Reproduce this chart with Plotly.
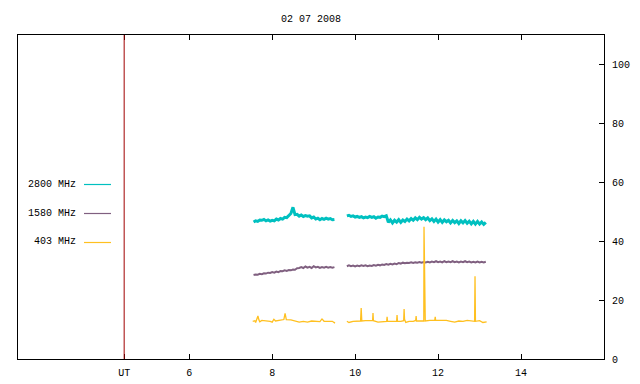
import plotly.graph_objects as go

# ---- data ----
title_text = "02 07 2008"
ut_pos = 4.43
x_tickvals = [4.43, 6, 8, 10, 12, 14]
x_ticktext = ["UT", "6", "8", "10", "12", "14"]
y_tickvals = [0, 20, 40, 60, 80, 100]

t_seg1 = [7.55, 7.60, 7.65, 7.70, 7.75, 7.80, 7.85, 7.90, 7.95, 8.00,
          8.05, 8.10, 8.15, 8.20, 8.25, 8.30, 8.35, 8.40, 8.45, 8.50,
          8.55, 8.60, 8.65, 8.70, 8.75, 8.80, 8.85, 8.90, 8.95, 9.00,
          9.05, 9.10, 9.15, 9.20, 9.25, 9.30, 9.35, 9.40, 9.45, 9.50]
t_seg2 = [9.80, 9.85, 9.90, 9.95, 10.00, 10.05, 10.10, 10.15, 10.20, 10.25,
          10.30, 10.35, 10.40, 10.45, 10.50, 10.55, 10.60, 10.65, 10.70, 10.75,
          10.80, 10.85, 10.90, 10.95, 11.00, 11.05, 11.10, 11.15, 11.20, 11.25,
          11.30, 11.35, 11.40, 11.45, 11.50, 11.55, 11.60, 11.65, 11.70, 11.75,
          11.80, 11.85, 11.90, 11.95, 12.00, 12.05, 12.10, 12.15, 12.20, 12.25,
          12.30, 12.35, 12.40, 12.45, 12.50, 12.55, 12.60, 12.65, 12.70, 12.75,
          12.80, 12.85, 12.90, 12.95, 13.00, 13.05, 13.10, 13.15]

f2800_seg1 = [46.5, 46.9, 46.7, 47.2, 47.1, 47.4, 46.9, 47.2, 46.8, 47.1,
              46.9, 47.5, 47.2, 47.7, 47.5, 48.1, 48.0, 48.7, 49.4, 51.5,
              49.0, 49.1, 48.5, 48.9, 48.4, 48.7, 48.5, 48.6, 47.9, 48.2,
              47.5, 47.8, 47.3, 47.7, 47.4, 47.8, 47.5, 47.7, 47.3, 47.4]
f2800_seg2 = [48.6, 48.8, 48.4, 48.6, 48.2, 48.4, 48.1, 48.3, 47.9, 48.2,
              48.0, 48.4, 48.1, 48.3, 47.8, 48.2, 48.1, 48.5, 48.3, 48.6,
              46.4, 47.2, 46.2, 47.1, 46.5, 47.3, 46.4, 47.2, 46.7, 47.5,
              46.9, 47.7, 47.1, 47.9, 47.3, 48.1, 47.5, 48.0, 47.3, 47.9,
              47.0, 47.6, 46.7, 47.5, 46.5, 47.3, 46.4, 47.2, 46.6, 47.1,
              46.2, 47.0, 46.3, 46.9, 46.0, 46.9, 46.2, 47.0, 46.1, 46.8,
              45.9, 46.7, 45.8, 46.7, 45.8, 46.5, 45.7, 46.4]

f1580_seg1 = [28.5, 28.7, 28.6, 28.9, 28.8, 29.1, 29.0, 29.3, 29.2, 29.5,
              29.3, 29.7, 29.5, 29.9, 29.8, 30.1, 29.9, 30.2, 30.1, 30.4,
              30.3, 30.8, 30.9, 31.2, 30.9, 31.4, 31.0, 31.3, 30.9, 31.5,
              31.1, 31.3, 30.9, 31.2, 31.0, 31.3, 31.0, 31.2, 31.0, 31.2]
f1580_seg2 = [31.5, 31.8, 31.5, 31.7, 31.4, 31.7, 31.5, 31.8, 31.6, 31.8,
              31.5, 31.7, 31.6, 31.9, 31.7, 32.0, 31.8, 32.1, 31.9, 32.2,
              32.0, 32.3, 32.1, 32.4, 32.2, 32.6, 32.4, 32.7, 32.5, 32.7,
              32.6, 32.8, 32.6, 32.8, 32.7, 32.9, 32.7, 32.9, 32.8, 33.0,
              32.8, 33.1, 32.9, 33.2, 32.9, 33.1, 32.8, 33.2, 32.9, 33.1,
              32.9, 33.2, 32.9, 33.1, 32.8, 33.1, 32.9, 33.2, 32.9, 33.1,
              32.8, 33.0, 32.8, 33.1, 32.8, 33.0, 32.8, 33.0]

t403_seg1 = [7.53, 7.58, 7.60, 7.63, 7.655, 7.68, 7.70, 7.75, 7.85, 7.95,
             8.00, 8.04, 8.08, 8.20, 8.28, 8.31, 8.34, 8.45, 8.55, 8.65,
             8.75, 8.85, 8.95, 9.05, 9.15, 9.20, 9.25, 9.35, 9.45, 9.50, 9.51]
f403_seg1 = [12.8, 13.0, 12.4, 13.5, 14.6, 13.2, 12.6, 13.1, 13.0, 12.8,
             12.5, 13.5, 12.9, 13.3, 13.4, 15.5, 13.4, 13.3, 12.8, 12.5,
             12.8, 12.5, 12.9, 12.8, 12.7, 13.6, 12.8, 12.8, 12.8, 12.3, 12.5]
t403_seg2 = [9.80, 9.85, 9.95, 10.05, 10.13, 10.145, 10.16, 10.25, 10.35, 10.42,
             10.43, 10.44, 10.55, 10.65, 10.76, 10.77, 10.78, 10.90, 11.00, 11.01,
             11.02, 11.10, 11.17, 11.18, 11.19, 11.22, 11.30, 11.40, 11.46, 11.47,
             11.48, 11.58, 11.655, 11.66, 11.67, 11.685, 11.69, 11.80, 11.92, 11.93,
             11.94, 12.05, 12.20, 12.30, 12.40, 12.50, 12.60, 12.70, 12.80, 12.88,
             12.89, 12.90, 13.00, 13.08, 13.17]
f403_seg2 = [12.8, 12.4, 12.8, 12.8, 12.9, 17.3, 12.9, 13.0, 13.1, 13.0,
             15.6, 13.0, 12.5, 12.7, 12.8, 14.3, 12.8, 12.8, 12.8, 14.9,
             12.8, 12.8, 13.0, 17.0, 13.5, 12.4, 12.8, 12.8, 13.1, 14.6,
             12.9, 12.9, 12.9, 44.9, 24.1, 24.1, 12.9, 13.1, 13.2, 14.3,
             13.2, 13.1, 13.1, 12.8, 12.5, 12.9, 12.8, 13.1, 12.9, 12.8,
             28.1, 12.8, 13.0, 12.4, 12.6]

series_names = ["2800 MHz", "1580 MHz", "403 MHz"]
series_colors = ["#00C0C0", "#806080", "#FFC020"]

# ---- figure ----
W, H = 640, 384
ML, MR, MT, MB = 18, 36, 35, 25
FONT = "Liberation Mono"

fig = go.Figure()
fig.add_trace(go.Scatter(x=t_seg1 + [None] + t_seg2,
                         y=f2800_seg1 + [None] + f2800_seg2,
                         mode="lines", line=dict(color=series_colors[0], width=3),
                         connectgaps=False, showlegend=False))
fig.add_trace(go.Scatter(x=t_seg1 + [None] + t_seg2,
                         y=f1580_seg1 + [None] + f1580_seg2,
                         mode="lines", line=dict(color=series_colors[1], width=2),
                         connectgaps=False, showlegend=False))
fig.add_trace(go.Scatter(x=t403_seg1 + [None] + t403_seg2,
                         y=f403_seg1 + [None] + f403_seg2,
                         mode="lines", line=dict(color=series_colors[2], width=1.3),
                         connectgaps=False, showlegend=False))

# UT marker line
fig.add_shape(type="line", xref="x", yref="paper", x0=ut_pos, x1=ut_pos, y0=0, y1=1,
              line=dict(color="#A00000", width=1))

# custom legend (text left of sample line), pixel positions converted to paper
pw = W - ML - MR
ph = H - MT - MB
def px(xp):
    return (xp - ML) / pw
def py(yp):
    return (H - MB - yp) / ph

legend_rows = [184, 213, 242]
for name, col, yrow in zip(series_names, series_colors, legend_rows):
    fig.add_annotation(x=px(78), y=py(yrow), xref="paper", yref="paper",
                       text=name, showarrow=False, xanchor="right", yanchor="middle",
                       font=dict(family=FONT, size=10, color="black"))
    fig.add_shape(type="line", xref="paper", yref="paper",
                  x0=px(84), x1=px(111), y0=py(yrow + 0.5), y1=py(yrow + 0.5),
                  line=dict(color=col, width=1.2))

fig.update_layout(
    width=W, height=H,
    margin=dict(l=ML, r=MR, t=MT, b=MB, autoexpand=False),
    paper_bgcolor="white", plot_bgcolor="white",
    title=dict(text=title_text, x=(ML + pw / 2) / W, xanchor="center",
               y=1 - 18 / H, yanchor="middle",
               font=dict(family=FONT, size=10, color="black")),
    font=dict(family=FONT, size=10, color="black"),
    xaxis=dict(range=[1.87, 16], tickvals=x_tickvals, ticktext=x_ticktext,
               ticks="inside", ticklen=5, tickcolor="black", mirror="ticks",
               showline=True, linecolor="black", linewidth=1, showgrid=False,
               zeroline=False, ticklabelstandoff=4, automargin=False),
    yaxis=dict(range=[0, 110], tickvals=y_tickvals, side="right",
               ticks="inside", ticklen=5, tickcolor="black", mirror=True,
               showline=True, linecolor="black", linewidth=1, showgrid=False,
               zeroline=False, ticklabelstandoff=5, automargin=False),
)

fig.write_html("out.html", config={"displayModeBar": False},
               post_script="document.body.style.margin='0';")
